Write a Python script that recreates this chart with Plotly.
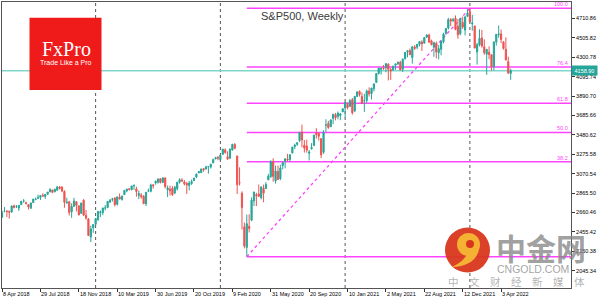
import plotly.graph_objects as go
import pandas as pd

# ---------------- data (weekly S&P500 candles, week start Sunday) ----------------
first_week = "2018-04-08"

opens = [
    # 2018
    2610, 2670, 2675, 2670, 2665, 2730, 2721, 2707, 2742, 2780, 2763, 2742, 2705, 2765, 2799, 2810, 2819, 2840, 2828, 2851,
    2876, 2897, 2879, 2896, 2928, 2926, 2882, 2763, 2773, 2667, 2726, 2773, 2730, 2650, 2790, 2630, 2591, 2401, 2498,
    # 2019
    2535, 2586, 2657, 2659, 2706, 2712, 2770, 2798, 2814, 2747, 2823, 2797, 2848, 2888, 2909, 2899, 2940, 2909, 2840, 2841,
    2831, 2751, 2886, 2883, 2952, 2972, 2979, 3017, 2978, 3025, 2899, 2907, 2913, 2866, 2910, 2980, 3001, 2983, 2967, 2944,
    2965, 2996, 3035, 3078, 3081, 3123, 3118, 3144, 3141, 3183, 3226, 3240,
    # 2020
    3218, 3274, 3321, 3248, 3235, 3319, 3378, 3257, 2974, 2863, 2509, 2290, 2514, 2578, 2782, 2846, 2855, 2815, 2915, 2913,
    3004, 3038, 3199, 2993, 3094, 3018, 3155, 3205, 3224, 3219, 3289, 3356, 3380, 3419, 3509, 3370, 3363, 3285, 3334, 3367,
    3500, 3494, 3441, 3296, 3583, 3600, 3566, 3653, 3694, 3675, 3684, 3723,
    # 2021
    3764, 3803, 3781, 3851, 3732, 3886, 3939, 3886, 3842, 3844, 3943, 3916, 3969, 4034, 4130, 4175, 4185, 4191, 4228, 4170,
    4168, 4216, 4231, 4249, 4174, 4285, 4357, 4372, 4297, 4409, 4407, 4437, 4461, 4450, 4513, 4535, 4474, 4406, 4449, 4349,
    4385, 4464, 4554, 4610, 4701, 4689, 4712, 4629, 4549, 4669, 4588, 4733,
    # 2022
    4778, 4655, 4632, 4357, 4431, 4505, 4412, 4333, 4354, 4328, 4202, 4462, 4541, 4547, 4462, 4385, 4255, 4130,
]
highs = [
    2680, 2717, 2683, 2682, 2733, 2742, 2739, 2736, 2779, 2801, 2774, 2747, 2764, 2804, 2816, 2848, 2841, 2863, 2855, 2876,
    2916, 2900, 2911, 2941, 2940, 2939, 2894, 2816, 2779, 2756, 2815, 2775, 2733, 2760, 2800, 2685, 2601, 2520, 2538,
    2598, 2675, 2681, 2709, 2738, 2776, 2794, 2814, 2816, 2831, 2861, 2836, 2893, 2910, 2918, 2940, 2955, 2932, 2892, 2865,
    2842, 2876, 2911, 2964, 2958, 2996, 3018, 3017, 3028, 3030, 2944, 2944, 2939, 2941, 2985, 3021, 3022, 3002, 2983, 2993,
    3008, 3027, 3067, 3097, 3121, 3128, 3154, 3150, 3176, 3226, 3248, 3258,
    3268, 3330, 3338, 3306, 3337, 3385, 3393, 3260, 3137, 2883, 2553, 2637, 2641, 2819, 2880, 2868, 2955, 2933, 2954, 2980,
    3068, 3212, 3233, 3155, 3155, 3165, 3199, 3236, 3280, 3272, 3352, 3388, 3399, 3509, 3588, 3425, 3429, 3320, 3393, 3482,
    3550, 3502, 3441, 3529, 3645, 3628, 3644, 3699, 3712, 3727, 3712, 3760,
    3827, 3823, 3861, 3870, 3887, 3937, 3950, 3929, 3914, 3960, 3983, 3975, 4020, 4130, 4192, 4194, 4219, 4238, 4237, 4186,
    4214, 4234, 4255, 4262, 4287, 4356, 4372, 4393, 4415, 4430, 4442, 4469, 4481, 4513, 4546, 4550, 4487, 4465, 4466, 4429,
    4475, 4560, 4608, 4718, 4714, 4718, 4743, 4705, 4713, 4731, 4741, 4808,
    4818.62, 4749, 4632, 4453, 4596, 4590, 4490, 4386, 4416, 4329, 4466, 4546, 4637, 4594, 4471, 4512, 4308, 4180,
]
lows = [
    2605, 2660, 2612, 2594, 2656, 2702, 2707, 2676, 2741, 2764, 2743, 2691, 2698, 2763, 2789, 2802, 2791, 2825, 2803, 2849,
    2876, 2864, 2873, 2886, 2903, 2874, 2710, 2750, 2628, 2603, 2717, 2670, 2631, 2649, 2621, 2583, 2409, 2347, 2444,
    2525, 2570, 2612, 2631, 2681, 2705, 2761, 2775, 2722, 2732, 2800, 2785, 2848, 2873, 2892, 2899, 2900, 2826, 2801, 2805,
    2750, 2728, 2874, 2873, 2912, 2953, 2965, 2967, 2969, 2914, 2822, 2840, 2835, 2853, 2891, 2964, 2985, 2946, 2855, 2892,
    2952, 2992, 3023, 3075, 3077, 3091, 3117, 3070, 3124, 3183, 3223, 3212,
    3214, 3270, 3280, 3214, 3223, 3316, 3328, 2855, 2945, 2479, 2280, 2191.86, 2448, 2568, 2728, 2727, 2823, 2798, 2767, 2908,
    3004, 3026, 2984, 2965, 3004, 3001, 3115, 3127, 3200, 3201, 3284, 3328, 3363, 3404, 3349, 3293, 3292, 3209, 3323, 3366,
    3441, 3420, 3234, 3280, 3511, 3543, 3566, 3594, 3634, 3645, 3636, 3723,
    3663, 3749, 3780, 3694, 3725, 3885, 3885, 3805, 3723, 3819, 3885, 3854, 3939, 4034, 4118, 4118, 4168, 4141, 4056, 4062,
    4157, 4168, 4220, 4165, 4145, 4277, 4300, 4327, 4233, 4379, 4385, 4416, 4367, 4447, 4507, 4457, 4428, 4306, 4289, 4279,
    4322, 4447, 4538, 4595, 4630, 4672, 4586, 4496, 4533, 4600, 4531, 4733,
    4662, 4582, 4396, 4223, 4415, 4402, 4327, 4115, 4279, 4158, 4161, 4424, 4507, 4451, 4381, 4267, 4129, 4062,
]
closes = [
    2656, 2670, 2670, 2663, 2728, 2713, 2721, 2735, 2779, 2780, 2755, 2718, 2760, 2801, 2802, 2819, 2840, 2833, 2850, 2875,
    2902, 2872, 2905, 2930, 2914, 2886, 2767, 2768, 2659, 2723, 2781, 2736, 2633, 2760, 2633, 2600, 2417, 2486, 2532,
    2596, 2671, 2665, 2707, 2708, 2776, 2793, 2804, 2743, 2822, 2801, 2834, 2893, 2907, 2905, 2940, 2946, 2881, 2860, 2826,
    2752, 2873, 2887, 2950, 2942, 2990, 3014, 2977, 3026, 2932, 2919, 2889, 2847, 2926, 2979, 3007, 2992, 2962, 2952, 2970,
    2986, 3023, 3067, 3093, 3120, 3110, 3141, 3146, 3169, 3221, 3240, 3235,
    3265, 3330, 3295, 3226, 3328, 3380, 3338, 2954, 2972, 2711, 2305, 2541, 2489, 2790, 2875, 2837, 2831, 2930, 2864, 2955,
    3044, 3194, 3041, 3098, 3009, 3130, 3185, 3225, 3216, 3271, 3351, 3373, 3397, 3508, 3427, 3341, 3319, 3298, 3348, 3477,
    3484, 3465, 3270, 3509, 3585, 3558, 3638, 3699, 3663, 3709, 3703, 3756,
    3825, 3768, 3841, 3714, 3887, 3935, 3907, 3811, 3842, 3943, 3913, 3975, 4020, 4129, 4185, 4180, 4181, 4233, 4174, 4156,
    4204, 4230, 4247, 4166, 4281, 4352, 4370, 4327, 4412, 4395, 4437, 4468, 4442, 4509, 4535, 4459, 4433, 4455, 4357, 4391,
    4471, 4545, 4605, 4698, 4683, 4698, 4595, 4538, 4712, 4621, 4726, 4766,
    4677, 4663, 4398, 4432, 4501, 4419, 4349, 4385, 4329, 4204, 4463, 4543, 4546, 4488, 4393, 4272, 4132, 4158.90,
]

x_tick_dates = ["2018-04-08", "2018-07-29", "2018-11-18", "2019-03-10", "2019-06-30", "2019-10-20", "2020-02-09",
                "2020-05-31", "2020-09-20", "2021-01-10", "2021-05-02", "2021-08-22", "2021-12-12", "2022-04-03"]
x_tick_text = ["8 Apr 2018", "29 Jul 2018", "18 Nov 2018", "10 Mar 2019", "30 Jun 2019", "20 Oct 2019", "9 Feb 2020",
               "31 May 2020", "20 Sep 2020", "10 Jan 2021", "2 May 2021", "22 Aug 2021", "12 Dec 2021", "3 Apr 2022"]
y_tick_vals = [2045.34, 2250.38, 2455.42, 2660.46, 2865.50, 3070.54, 3275.58, 3480.62,
               3685.66, 3890.70, 4095.74, 4300.78, 4505.82, 4710.86]
y_tick_text = ["%.2f" % v for v in y_tick_vals]

year_separators = ["2019-01-06", "2020-01-05", "2021-01-03", "2022-01-02"]

swing_low_date, swing_low = "2020-03-22", 2191.86
swing_high_date, swing_high = "2022-01-02", 4818.62
fib_levels = [0.0, 38.2, 50.0, 61.8, 76.4, 100.0]
last_price = 4158.90
title_text = "S&P500, Weekly"

# ---------------- figure ----------------
dates = pd.date_range(first_week, periods=len(closes), freq="W-SUN")

UP = "#26a69a"
DOWN = "#ef5350"
FIB = "#ff44ff"

fig = go.Figure()
fig.add_trace(go.Candlestick(
    x=dates, open=opens, high=highs, low=lows, close=closes,
    increasing=dict(line=dict(color=UP, width=1), fillcolor=UP),
    decreasing=dict(line=dict(color=DOWN, width=1), fillcolor=DOWN),
    whiskerwidth=0, hoverinfo="skip", showlegend=False,
))

L, R, T, B = 2, 31, 2, 13
W, H = 602, 301
PW, PH = W - L - R, H - T - B


def px(x):
    return (x - L) / PW


def py(y):
    return (H - B - y) / PH


shapes = []
# year separators
for d in year_separators:
    shapes.append(dict(type="line", xref="x", yref="paper", x0=d, x1=d, y0=0, y1=1,
                       line=dict(color="#555555", width=1, dash="dot"), layer="below"))
# current price line
shapes.append(dict(type="line", xref="paper", yref="y", x0=0, x1=1, y0=last_price, y1=last_price,
                   line=dict(color="#80d6cb", width=1.5), layer="below"))
# fibonacci levels
for lv in fib_levels:
    val = swing_low + (swing_high - swing_low) * lv / 100.0
    shapes.append(dict(type="line", xref="x", yref="y", x0=swing_low_date, x1="2023-06-01", y0=val, y1=val,
                       line=dict(color=FIB, width=1.5), layer="below"))
# fib trend line
shapes.append(dict(type="line", xref="x", yref="y", x0=swing_low_date, x1=swing_high_date,
                   y0=swing_low, y1=swing_high, line=dict(color=FIB, width=1.3, dash="dot"), layer="below"))

# FxPro logo box
shapes.append(dict(type="rect", xref="paper", yref="paper", x0=px(29.5), x1=px(101.5), y0=py(90), y1=py(17.7),
                   fillcolor="#ef1a1a", line=dict(width=0), layer="above"))
# CNGOLD logo
shapes.append(dict(type="circle", xref="paper", yref="paper", x0=px(445), x1=px(490), y0=py(272.5), y1=py(227.5),
                   fillcolor="#d9361c", line=dict(width=0), layer="above", opacity=0.95))
shapes.append(dict(type="circle", xref="paper", yref="paper", x0=px(457), x1=px(480), y0=py(256), y1=py(233),
                   fillcolor="#f5b133", line=dict(width=0), layer="above"))
shapes.append(dict(type="circle", xref="paper", yref="paper", x0=px(466), x1=px(474), y0=py(248), y1=py(240),
                   fillcolor="#d9361c", line=dict(width=0), layer="above"))
tail = "M {:.4f} {:.4f} Q {:.4f} {:.4f} {:.4f} {:.4f} Q {:.4f} {:.4f} {:.4f} {:.4f} Z".format(
    px(479.5), py(247), px(477), py(266), px(452), py(267), px(468), py(259), px(467), py(251))
shapes.append(dict(type="path", xref="paper", yref="paper", path=tail,
                   fillcolor="#f5b133", line=dict(width=0), layer="above"))

annotations = []
# x-axis date labels, left-aligned at their tick (MT4 style)
for d, t in zip(x_tick_dates, x_tick_text):
    annotations.append(dict(text=t, xref="x", yref="paper", x=d, y=py(289.5), xanchor="left", yanchor="top",
                            showarrow=False, borderpad=0, xshift=0,
                            font=dict(size=5.5, color="#000", family="Liberation Sans")))
annotations.append(dict(text=title_text, xref="paper", yref="paper", x=px(259), y=py(15.7), xanchor="left",
                        yanchor="middle", showarrow=False, font=dict(size=11, color="#3a3a3a", family="Liberation Sans")))
for lv in fib_levels[1:]:
    val = swing_low + (swing_high - swing_low) * lv / 100.0
    annotations.append(dict(text="%.1f" % lv, xref="paper", yref="y", x=px(569.5), y=val, xanchor="right",
                            yanchor="bottom", showarrow=False, yshift=-1,
                            font=dict(size=5.5, color=FIB, family="Liberation Sans")))
annotations.append(dict(text="%.2f" % last_price, xref="paper", yref="y", x=px(571), y=last_price, xanchor="left",
                        yanchor="middle", showarrow=False, bgcolor=UP, borderpad=1.5, width=22,
                        font=dict(size=5.5, color="white", family="Liberation Sans")))
# FxPro text
annotations.append(dict(text="FxPro", xref="paper", yref="paper", x=px(66), y=py(49), xanchor="center",
                        yanchor="middle", showarrow=False, font=dict(size=20, color="white", family="Liberation Serif")))
annotations.append(dict(text="Trade Like a Pro", xref="paper", yref="paper", x=px(66), y=py(62.7), xanchor="center",
                        yanchor="middle", showarrow=False, font=dict(size=7, color="white", family="Liberation Sans")))
# CNGOLD watermark text
annotations.append(dict(text="<b>中金网</b>", xref="paper", yref="paper", x=px(541), y=py(247.5), xanchor="center",
                        yanchor="middle", showarrow=False,
                        font=dict(size=30, color="rgba(135,135,135,0.8)", family="Noto Sans CJK SC")))
annotations.append(dict(text="CNGOLD.COM", xref="paper", yref="paper", x=px(532.5), y=py(269), xanchor="center",
                        yanchor="middle", showarrow=False,
                        font=dict(size=10.5, color="rgba(140,140,140,0.8)", family="Liberation Sans")))
annotations.append(dict(text="中\u3000文\u3000财\u3000经\u3000新\u3000媒\u3000体", xref="paper", yref="paper",
                        x=px(516.5), y=py(281.7), xanchor="center", yanchor="middle", showarrow=False,
                        font=dict(size=10.5, color="rgba(160,160,160,0.8)", family="Noto Sans CJK SC")))

fig.update_layout(
    width=W, height=H,
    margin=dict(l=L, r=R, t=T, b=B, pad=0, autoexpand=False),
    paper_bgcolor="white", plot_bgcolor="white",
    font=dict(family="Liberation Sans", size=6, color="#000"),
    showlegend=False,
    shapes=shapes, annotations=annotations,
    xaxis=dict(
        type="date", range=["2018-04-07 20:00", "2022-10-24"],
        tickvals=x_tick_dates, showticklabels=False,
        ticks="outside", ticklen=3, tickcolor="#333", tickwidth=1,
        showgrid=False, zeroline=False, showline=True, linecolor="#555", linewidth=1, mirror=True,
        rangeslider=dict(visible=False), fixedrange=True, automargin=False,
    ),
    yaxis=dict(
        side="right", range=[1861, 4885],
        tickvals=y_tick_vals, ticktext=y_tick_text,
        ticks="outside", ticklen=3, tickcolor="#333", tickwidth=1,
        tickfont=dict(size=5.5, color="#000"),
        showgrid=False, zeroline=False, showline=True, linecolor="#555", linewidth=1, mirror=True,
        fixedrange=True, automargin=False,
    ),
)

fig.write_html("out.html")
